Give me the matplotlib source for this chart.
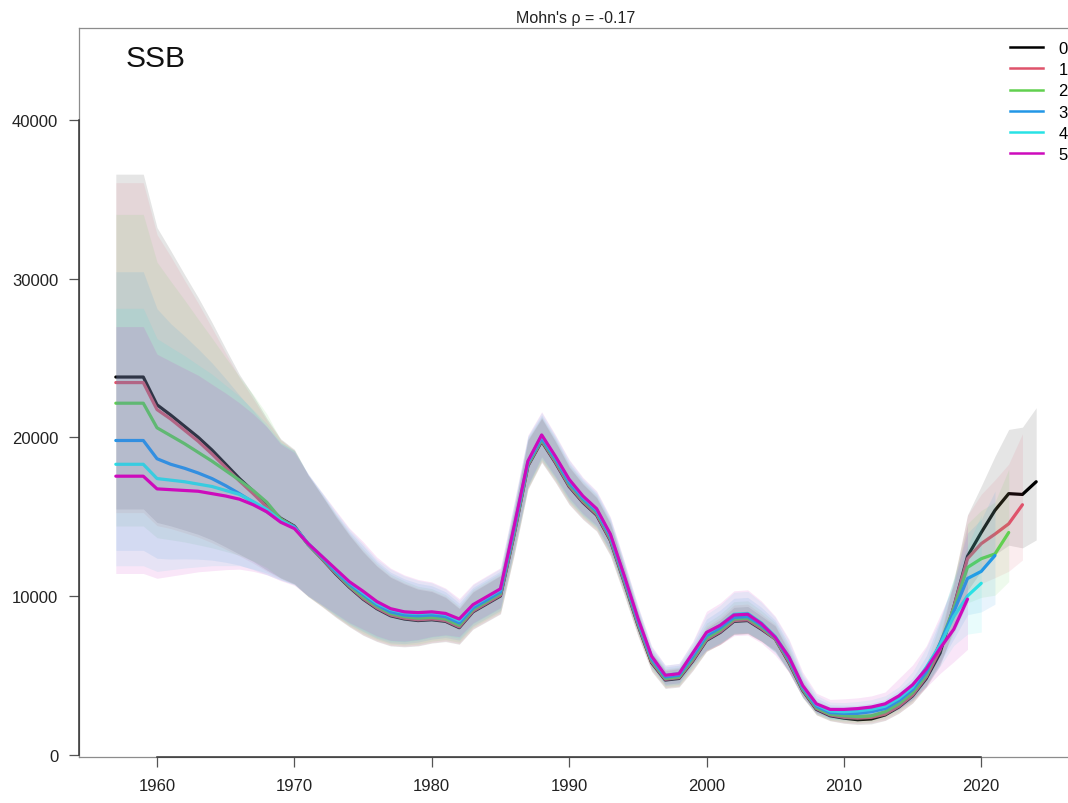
import numpy as np
import matplotlib
matplotlib.use("Agg")
import matplotlib.pyplot as plt
from matplotlib.lines import Line2D

plt.rcParams["font.family"] = ["Liberation Sans", "DejaVu Sans"]

# ---- data -----------------------------------------------------------------
first_year = 1957
peel_labels = ["0", "1", "2", "3", "4", "5"]
peel_colors = ["#000000", "#DF536B", "#61D04F", "#2297E6", "#28E2E5", "#CD0BBC"]
mohns_rho = -0.17

# SSB estimates (t) for each retrospective peel, starting in 1957
ssb_peel0 = [23800, 23800, 23800, 22050, 21400, 20700, 20000, 19200, 18300, 17400,
             16600, 15700, 14900, 14400, 13250, 12350, 11400, 10550, 9800, 9200,
             8750, 8550, 8450, 8500, 8400, 8000, 9000, 9500, 10000, 13900,
             18200, 19750, 18400, 16900, 15900, 15100, 13500, 10900, 8200, 5800,
             4700, 4800, 5900, 7200, 7700, 8400, 8450, 7900, 7300, 5800,
             4050, 2850, 2450, 2300, 2200, 2250, 2500, 3000, 3700, 4800,
             6400, 9300, 12500, 14000, 15400, 16450, 16400, 17200]
ssb_peel1 = [23450, 23450, 23450, 21750, 21150, 20450, 19750, 18950, 18100, 17250,
             16450, 15600, 14850, 14350, 13250, 12350, 11450, 10600, 9850, 9250,
             8800, 8600, 8500, 8550, 8450, 8050, 9050, 9550, 10050, 13950,
             18250, 19800, 18450, 16950, 15950, 15150, 13550, 10950, 8250, 5850,
             4750, 4850, 5950, 7250, 7750, 8450, 8500, 7950, 7300, 5850,
             4100, 2900, 2500, 2350, 2300, 2350, 2550, 3050, 3750, 4900,
             6600, 9300, 12350, 13300, 13900, 14550, 15750]
ssb_peel2 = [22150, 22150, 22150, 20600, 20100, 19600, 19050, 18500, 17900, 17300,
             16650, 15900, 14850, 14350, 13250, 12400, 11500, 10650, 9950, 9350,
             8900, 8700, 8600, 8650, 8550, 8150, 9150, 9650, 10150, 14050,
             18300, 19850, 18550, 17050, 16050, 15250, 13650, 11050, 8350, 5950,
             4800, 4900, 6050, 7350, 7850, 8550, 8600, 8050, 7350, 5950,
             4150, 2950, 2550, 2450, 2400, 2450, 2700, 3200, 3900, 5000,
             7000, 9200, 11800, 12350, 12650, 14000]
ssb_peel3 = [19800, 19800, 19800, 18650, 18300, 18050, 17750, 17400, 16950, 16450,
             15900, 15300, 14700, 14350, 13300, 12450, 11550, 10750, 10100, 9450,
             9000, 8800, 8750, 8800, 8700, 8300, 9250, 9750, 10250, 14200,
             18400, 19950, 18650, 17150, 16150, 15350, 13750, 11150, 8450, 6050,
             4900, 5000, 6200, 7500, 8000, 8650, 8700, 8150, 7400, 6050,
             4250, 3050, 2650, 2600, 2600, 2700, 2900, 3400, 4100, 5200,
             7000, 9000, 11100, 11550, 12550]
ssb_peel4 = [18300, 18300, 18300, 17400, 17300, 17200, 17050, 16900, 16650, 16400,
             15950, 15450, 14750, 14300, 13300, 12500, 11650, 10850, 10200, 9550,
             9150, 8950, 8900, 8950, 8850, 8450, 9400, 9900, 10400, 14350,
             18450, 20100, 18750, 17300, 16250, 15450, 13850, 11250, 8550, 6150,
             5000, 5100, 6350, 7650, 8150, 8850, 8900, 8300, 7450, 6150,
             4300, 3150, 2750, 2700, 2750, 2850, 3050, 3550, 4250, 5500,
             6900, 8700, 10000, 10800]
ssb_peel5 = [17550, 17550, 17550, 16750, 16700, 16650, 16600, 16450, 16300, 16100,
             15750, 15300, 14650, 14250, 13300, 12500, 11700, 10900, 10300, 9650,
             9200, 9000, 8950, 9000, 8900, 8550, 9450, 9950, 10450, 14400,
             18500, 20150, 18800, 17350, 16300, 15500, 13900, 11300, 8600, 6200,
             5000, 5100, 6400, 7700, 8150, 8800, 8850, 8250, 7400, 6150,
             4350, 3200, 2850, 2850, 2900, 3000, 3200, 3700, 4400, 5400,
             6700, 7900, 9800]
ssb_peels = [ssb_peel0, ssb_peel1, ssb_peel2, ssb_peel3, ssb_peel4, ssb_peel5]

# half-width of the confidence band on log scale, by year (full assessment)
ci_halfwidth = [0.43, 0.43, 0.43, 0.41, 0.395, 0.38, 0.365, 0.35, 0.335, 0.32,
                0.31, 0.30, 0.29, 0.29, 0.285, 0.28, 0.275, 0.27, 0.265, 0.255,
                0.245, 0.23, 0.21, 0.19, 0.165, 0.14, 0.13, 0.125, 0.12, 0.10,
                0.085, 0.07, 0.07, 0.07, 0.07, 0.07, 0.075, 0.08, 0.09, 0.10,
                0.12, 0.12, 0.11, 0.10, 0.10, 0.10, 0.10, 0.10, 0.105, 0.11,
                0.12, 0.13, 0.14, 0.15, 0.15, 0.15, 0.15, 0.14, 0.13, 0.12,
                0.13, 0.16, 0.19, 0.19, 0.20, 0.22, 0.23, 0.24]
# last six years of each shortened assessment (peels 1-5)
ci_tail_halfwidth = {
    1: [0.16, 0.19, 0.20, 0.21, 0.22, 0.24],
    2: [0.15, 0.17, 0.19, 0.20, 0.21, 0.23],
    3: [0.15, 0.16, 0.18, 0.20, 0.22, 0.25],
    4: [0.16, 0.16, 0.17, 0.19, 0.23, 0.29],
    5: [0.20, 0.19, 0.18, 0.21, 0.24, 0.33],
}
# extra band width of the shorter runs in the recent period
ci_peel_widen = [0.0, 0.01, 0.02, 0.03, 0.045, 0.06]
widen_from_year = 2000

x_ticks = [1960, 1970, 1980, 1990, 2000, 2010, 2020]
y_ticks = [0, 10000, 20000, 30000, 40000]

# ---- figure ---------------------------------------------------------------
W, H = 1068, 804
fig = plt.figure(figsize=(W / 100, H / 100), dpi=100)
ax = fig.add_axes([79 / W, 1 - 758 / H, (1073 - 79) / W, (758 - 29) / H])

for k, (vals, col) in enumerate(zip(ssb_peels, peel_colors)):
    est = np.asarray(vals, dtype=float)
    yrs = np.arange(first_year, first_year + len(est))
    hw = np.asarray(ci_halfwidth[:len(est)], dtype=float)
    if k in ci_tail_halfwidth:
        tail = np.asarray(ci_tail_halfwidth[k])
        hw[-len(tail):] = tail
    hw = hw + np.where(yrs >= widen_from_year, ci_peel_widen[k], 0.0)
    ax.fill_between(yrs, est * np.exp(-hw), est * np.exp(hw),
                    color=col, alpha=0.1, lw=0, zorder=2 + 2 * k)
    ax.plot(yrs, est, color=col, lw=2.3, solid_joinstyle="round",
            solid_capstyle="round", zorder=1 + 2 * k)

ax.set_xlim(1954.32, 2026.68)
ax.set_ylim(-150, 45800)
ax.set_xticks(x_ticks)
ax.set_yticks(y_ticks)
ax.tick_params(axis="both", direction="out", length=7, width=0.9,
               color="#555555", labelsize=12, labelcolor="#222222", pad=8)
for side in ("left", "bottom", "top", "right"):
    ax.spines[side].set_color("#8c8c8c")
    ax.spines[side].set_linewidth(0.9)

# axis lines between the outer ticks
ax.plot([x_ticks[0], x_ticks[-1]], [0, 0], transform=ax.get_xaxis_transform(),
        color="#333333", lw=1.1, clip_on=False, zorder=20)
ax.plot([0, 0], [y_ticks[0], y_ticks[-1]], transform=ax.get_yaxis_transform(),
        color="#333333", lw=1.1, clip_on=False, zorder=20)

ax.set_title(f"Mohn's ρ = {mohns_rho:.2f}", fontsize=11.5, pad=4, color="#222222")
ax.text(0.047, 0.978, "SSB", transform=ax.transAxes, fontsize=21.5,
        ha="left", va="top", color="#111111")

handles = [Line2D([], [], color=c, lw=1.8) for c in peel_colors]
fig.legend(handles, peel_labels, loc="upper left",
           bbox_to_anchor=(1010 / W, 1 - 42 / H), frameon=False,
           fontsize=12, handlelength=2.0, handletextpad=0.9,
           labelspacing=0.37, borderpad=0, borderaxespad=0)

fig.savefig("out.png", dpi=100)
